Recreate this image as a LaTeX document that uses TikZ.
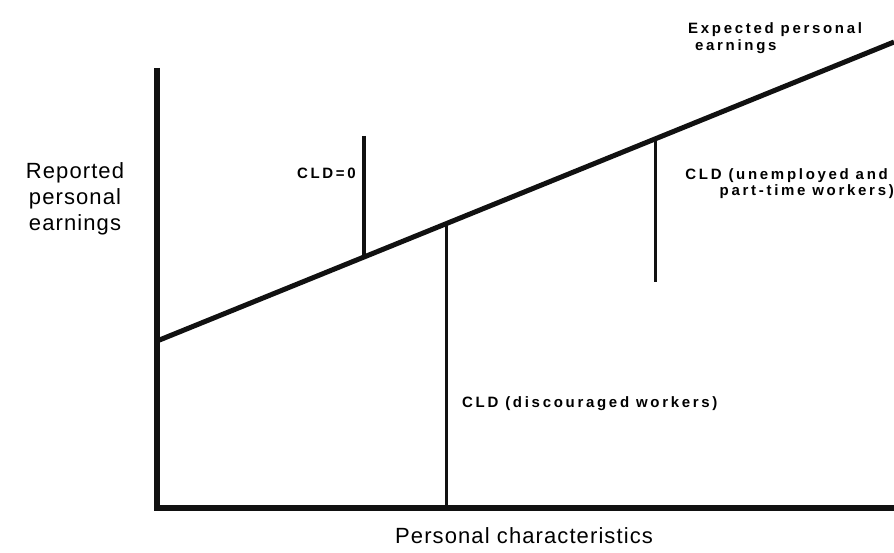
\documentclass[tikz,border=0pt]{standalone}
\usepackage{fontspec}
\setmainfont{Liberation Sans}
\newfontfamily\lblfont[LetterSpace=18]{Liberation Sans}
\newfontfamily\axisfont[LetterSpace=5]{Liberation Sans}
\usepackage{xcolor}
\definecolor{inkblack}{HTML}{111111}

\begin{document}
\begin{tikzpicture}[x=1pt, y=-1pt, line cap=butt]
                \useasboundingbox (0,0) rectangle (894,553);
                % axes
                \coordinate (ytop) at (157,68);
                \coordinate (orig) at (157,508);
                \coordinate (xend) at (894,508);
                \draw[inkblack, line width=5.5pt, line join=miter] (ytop) -- (orig) -- (xend);
                % expected earnings line
                \coordinate (lo) at (157,341);
                \coordinate (hi) at (894,42);
                \draw[inkblack, line width=5pt] (lo) -- (hi);
                % deviations
                \coordinate (zerotop) at (364,136);
                \coordinate (zerobase) at (364,257);
                \coordinate (discbase) at (446,224);
                \coordinate (discend) at (446,508);
                \coordinate (unembase) at (655,139);
                \coordinate (unemend) at (655,282);
                \draw[inkblack, line width=3.5pt] (zerotop) -- (zerobase);
                \draw[inkblack, line width=3pt] (discbase) -- (discend);
                \draw[inkblack, line width=3pt] (unembase) -- (unemend);
                % labels
                \node[anchor=north west, inner sep=0pt, align=left, font=\lblfont\bfseries\fontsize{15}{17}\selectfont] 
                (explbl) at (688,22) {Expected personal\\\ earnings};
                \node[anchor=base east, inner sep=0pt, font=\lblfont\bfseries\fontsize{15}{17}\selectfont] 
                (zerolbl) at (356,179) {CLD=0};
                \node[anchor=north east, inner sep=0pt, align=right, font=\lblfont\bfseries\fontsize{15}{16}\selectfont] 
                (unemlbl) at (894,168) {CLD (unemployed and\hspace*{6pt}\\part-time workers)};
                \node[anchor=base west, inner sep=0pt, font=\lblfont\bfseries\fontsize{15}{17}\selectfont] 
                (disclbl) at (462,407) {CLD (discouraged workers)};
                \node[anchor=north, inner sep=0pt, align=center, font=\axisfont\fontsize{22}{26}\selectfont] 
                (ylbl) at (75,162) {Reported\\personal\\earnings};
                \node[anchor=base west, inner sep=0pt, font=\axisfont\fontsize{22}{26}\selectfont] 
                (xlbl) at (395,543) {Personal characteristics};
            \end{tikzpicture}
\end{document}
